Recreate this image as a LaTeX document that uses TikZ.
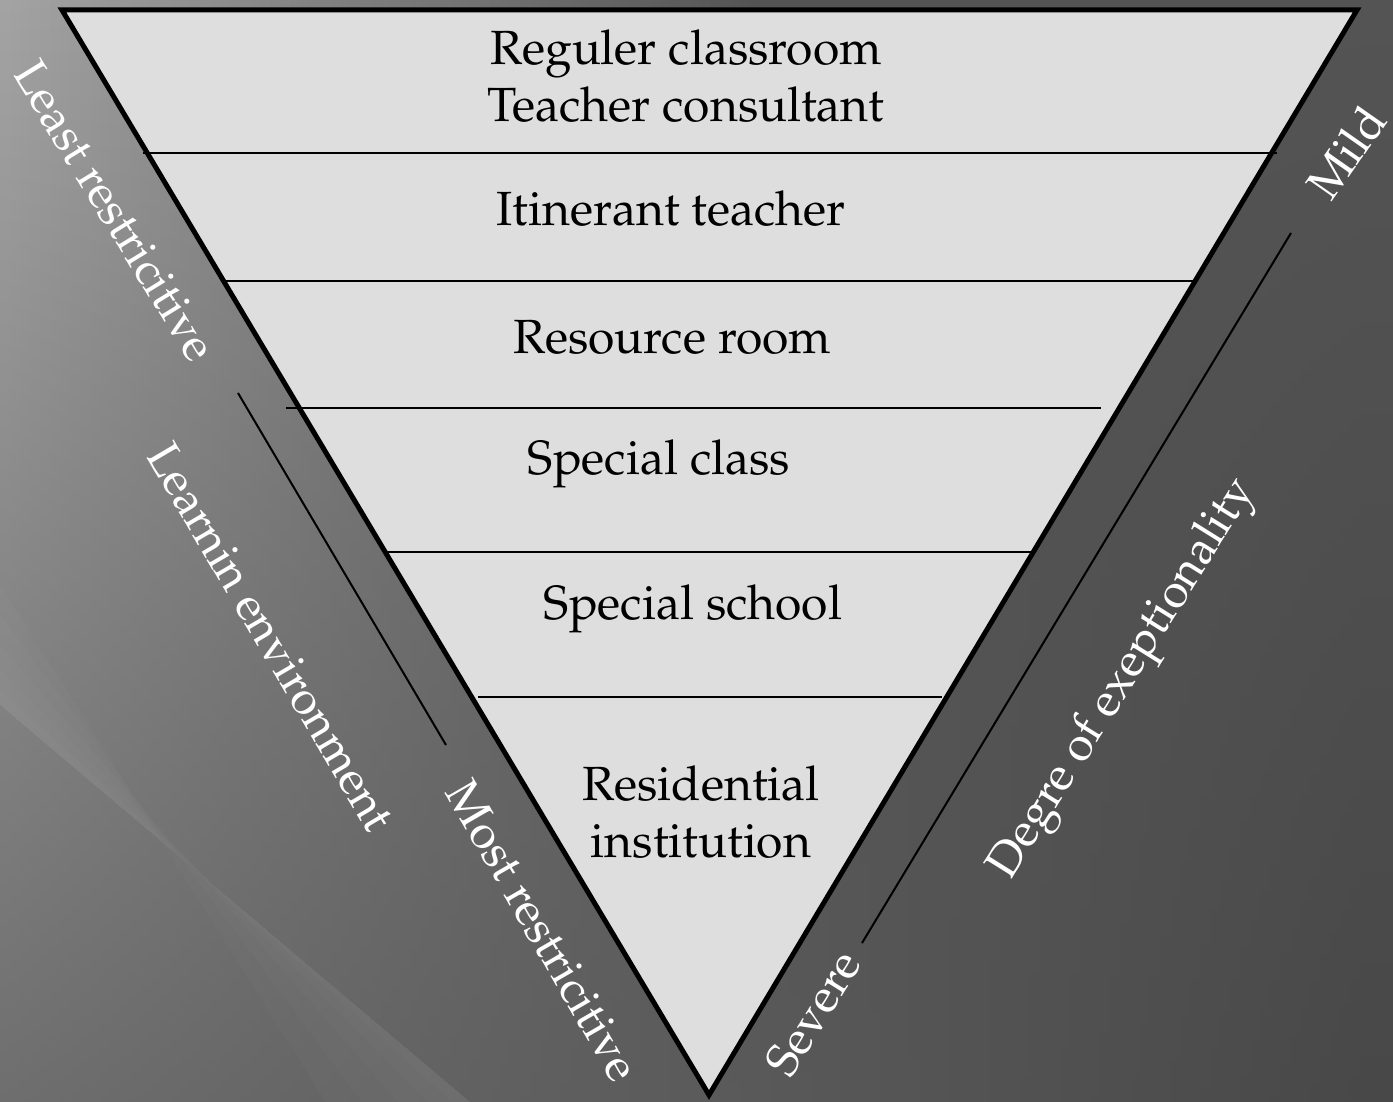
\documentclass[tikz,border=0pt]{standalone}
\usepackage[T1]{fontenc}
\usepackage{mathpazo}
\usetikzlibrary{calc}
\definecolor{tierFill}{HTML}{DEDEDE}
\begin{document}
\begin{tikzpicture}[x=1pt,y=-1pt,
  tier/.style={font=\fontsize{48}{57}\selectfont, text=black, align=center, inner sep=0pt},
  side/.style={font=\fontsize{47}{56}\selectfont, text=white, inner sep=0pt},
  rule/.style={line width=2.2pt, draw=black},
  guide/.style={line width=2pt, draw=black}]
\useasboundingbox (0,0) rectangle (1393,1102);

% background: vertical strips, each shaded top to bottom,
% light on the upper left and settling to a flat dark grey on the right
\foreach \i in {0,...,139}{
  \pgfmathsetmacro\xa{\i*10}
  \pgfmathsetmacro\ctop{max(84,163-0.105*\xa)/255}
  \pgfmathsetmacro\cbot{max(72,110-0.028*\xa)/255}
  \definecolor{stripTop}{gray}{\ctop}
  \definecolor{stripBot}{gray}{\cbot}
  \shade[top color=stripTop, bottom color=stripBot]
    (\xa,0) rectangle ({\xa+10.6},1102);
}
% faint light streak across the lower left, brightest along its lower edge
\foreach \w in {120,90,60,35,15}{
  \fill[white, opacity=0.018] (0,{705-\w}) -- (0,705) -- (470,1102) -- ({470-\w*1.2},1102) -- cycle;
}

% inverted triangle
\coordinate (tl) at (62,10);
\coordinate (tr) at (1357,10);
\coordinate (bt) at (709,1095);
\fill[tierFill] (tl) -- (tr) -- (bt) -- cycle;

% tier separators
\coordinate (r1a) at (143,153);  \coordinate (r1b) at (1277,153);
\coordinate (r2a) at (226,281);  \coordinate (r2b) at (1195,281);
\coordinate (r3a) at (286,408);  \coordinate (r3b) at (1101,408);
\coordinate (r4a) at (386,552);  \coordinate (r4b) at (1032,552);
\coordinate (r5a) at (478,697);  \coordinate (r5b) at (942,697);
\draw[rule] (r1a) -- (r1b);
\draw[rule] (r2a) -- (r2b);
\draw[rule] (r3a) -- (r3b);
\draw[rule] (r4a) -- (r4b);
\draw[rule] (r5a) -- (r5b);

\draw[line width=5pt, line join=miter] (tl) -- (tr) -- (bt) -- cycle;

% tier labels
\node[tier] (t1) at (686,76) {Reguler classroom\\Teacher consultant};
\node[tier] (t2) at (671,209) {Itinerant teacher};
\node[tier] (t3) at (672,337) {Resource room};
\node[tier] (t4) at (659,464) {Special class};
\node[tier] (t5) at (693,609) {Special school};
\node[tier] (t6) at (701,812) {Residential\\institution};

% side guides
\coordinate (g1a) at (238,393);  \coordinate (g1b) at (446,745);
\coordinate (g2a) at (1291,233); \coordinate (g2b) at (862,943);
\draw[guide] (g1a) -- (g1b);
\draw[guide] (g2a) -- (g2b);

% side labels
\node[side, rotate=-58.5] (least) at (115,211) {Least restricitive};
\node[side, rotate=-59.5] (learn) at (271,637) {Learnin environment};
\node[side, rotate=-60] (most) at (543,931) {Most restricitive};
\node[side, rotate=55] (mild) at (1346,152) {Mild};
\node[side, rotate=58] (degree) at (1124,680) {Degre of exeptionality};
\node[side, rotate=58] (severe) at (813,1013) {Severe};
\end{tikzpicture}
\end{document}
